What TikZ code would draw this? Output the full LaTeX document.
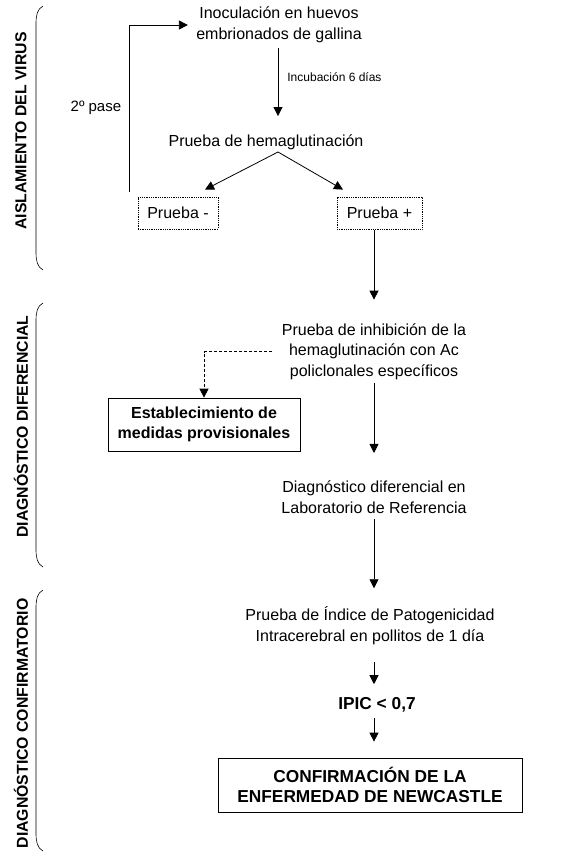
\documentclass[tikz,border=0pt]{standalone}
\usepackage{fontspec}
\setmainfont{Liberation Sans}
\usetikzlibrary{arrows.meta}
\tikzset{
	texto/.style={align=center,inner sep=0pt,font=\fontsize{16}{20.5}\selectfont},
	nota/.style={inner sep=0pt,font=\fontsize{12}{14}\selectfont},
	etapa/.style={rotate=90,inner sep=0pt,font=\fontsize{15.8}{18}\selectfont\bfseries},
	caja/.style={draw,line width=0.7pt,align=center,inner sep=0pt,font=\fontsize{16}{20.5}\selectfont\bfseries},
	prueba/.style={draw,densely dotted,line width=0.8pt,minimum height=32pt,inner sep=0pt,font=\fontsize{16}{20}\selectfont},
	llave/.style={line width=0.6pt}
}
\begin{document}
\begin{tikzpicture}[x=1pt,y=-1pt,line width=0.8pt,>={Triangle[length=9pt,width=9pt]}]
	\useasboundingbox (0,0) rectangle (566,852);
	\node[texto] (inoc) at (279,25) {Inoculación en huevos\\embrionados de gallina};
	\node[texto] (hema) at (266,142) {Prueba de hemaglutinación};
	\coordinate (bif) at (278,152);
	\node[prueba,minimum width=80pt] (neg) at (178,213) {Prueba -};
	\node[prueba,minimum width=85pt] (pos) at (379.5,213) {Prueba +};
	\node[texto] (inhib) at (374,351.5) {Prueba de inhibición de la\\hemaglutinación con Ac\\policlonales específicos};
	\node[caja,minimum width=192pt,minimum height=53pt] (medidas) at (204,424.5) {Establecimiento de\\medidas provisionales};
	\node[texto] (diag) at (374,497) {Diagnóstico diferencial en\\Laboratorio de Referencia};
	\node[texto] (patog) at (370,625.5) {Prueba de Índice de Patogenicidad\\Intracerebral en pollitos de 1 día};
	\node[texto,font=\fontsize{17.3}{20}\selectfont\bfseries] (ipic) at (377,705) {IPIC < 0,7};
	\node[caja,minimum width=304pt,minimum height=54pt,font=\fontsize{17.3}{20}\selectfont\bfseries] (conf) at (370,785) {CONFIRMACIÓN DE LA\\ENFERMEDAD DE NEWCASTLE};
	\node[etapa] (aisl) at (21,131) {AISLAMIENTO DEL VIRUS};
	\node[etapa] (difer) at (21,426.5) {DIAGNÓSTICO DIFERENCIAL};
	\node[etapa] (confir) at (21,723.5) {DIAGNÓSTICO CONFIRMATORIO};
	\foreach \a/\b in {6/270,303/567,590/851}
		\draw[llave] (43,\a) .. controls (37,{\a+3}) and (36,{\a+10}) .. (36,{\a+18}) -- (36,{\b-18}) .. controls (36,{\b-10}) and (37,{\b-3}) .. (43,\b);
	\draw[->,shorten <=5pt,shorten >=18pt] (inoc.south -| bif) -- (hema.north -| bif) node[nota,pos=0.37,right=9pt] {Incubación 6 días};
	\draw[->] (bif) -- ([shift={(27,-7)}]neg.north);
	\draw[->] (bif) -- ([shift={(-36.5,-7)}]pos.north);
	\draw[->,shorten >=8pt] ([shift={(-8,-5)}]neg.north west) |- (inoc.west) node[texto,pos=0.25,left=8pt,font=\fontsize{15}{18}\selectfont] {2º pase};
	\draw[->,shorten <=1pt,shorten >=23.4pt] (pos.south -| inhib) -- (inhib.north);
	\draw[->,dash pattern=on 3pt off 2pt,shorten <=10pt] (inhib.west) -| (medidas.north);
	\draw[->,shorten <=3.4pt,shorten >=27.4pt] (inhib.south) -- (diag.north);
	\draw[->,shorten <=5.3pt,shorten >=18pt] (diag.south) -- (diag.south |- patog.north);
	\draw[->,shorten <=17.4pt,shorten >=13pt] (patog.south -| diag) -- (ipic.north -| diag);
	\draw[->,shorten <=5pt,shorten >=16pt] (ipic.south -| diag) -- (conf.north -| diag);
	%	\draw[help lines] (0,0) grid[step=50] (566,852);
\end{tikzpicture}
\end{document}
